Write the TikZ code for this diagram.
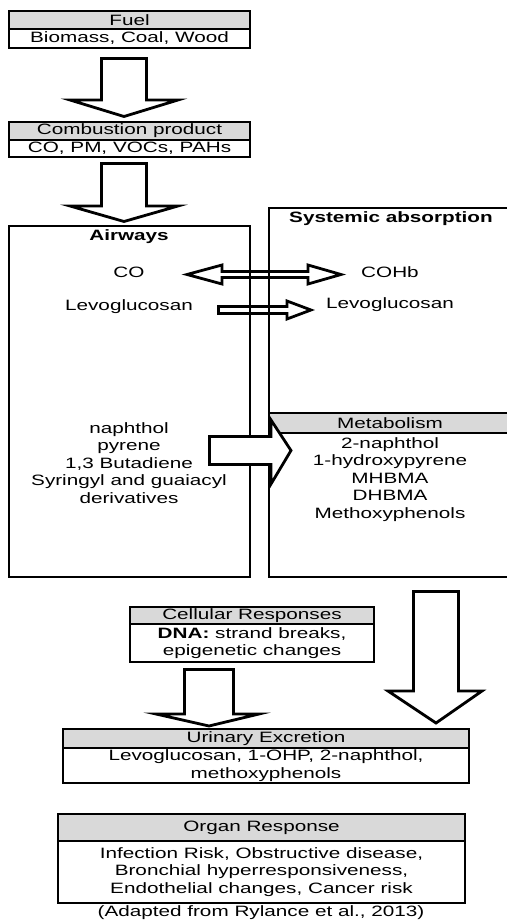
\documentclass[tikz,border=0pt]{standalone}
\usepackage{fontspec}
\setmainfont{Liberation Sans}[FakeStretch=1.38]
\newcommand\figfont{\fontsize{15}{17.5}\selectfont}

\begin{document}
\begin{tikzpicture}[x=1pt,y=-1pt,
    box/.style={draw,line width=1.5pt,inner sep=0pt,align=center,font=\figfont},
    head/.style={box,fill=gray!30},
    txt/.style={inner sep=0pt,align=center,font=\figfont},
    title/.style={inner sep=0pt,font=\figfont\bfseries},
    blk/.style={draw,line width=2.8pt,miter limit=20}]
    \useasboundingbox (0,0) rectangle (506,923);
    % side arrows first, the box lines run over them
    \draw[blk] (187,274.5) -- (222,265) -- (222,271.5) -- (308,271.5) -- (308,265) -- (341,274.5)
        -- (308,284) -- (308,277.5) -- (222,277.5) -- (222,284) -- cycle;
    \draw[blk] (218.5,306.5) -- (287,306.5) -- (287,301) -- (311,310) -- (287,319) -- (287,313.5) -- (218.5,313.5) -- cycle;
    % fuel and combustion
    \node[head,minimum width=241pt,minimum height=18pt] (fuelhd) at (129.5,20) {Fuel};
    \node[box,minimum width=241pt,minimum height=19pt] (fuel) at (129.5,38.5) {Biomass, Coal, Wood};
    \node[head,minimum width=241pt,minimum height=18pt] (combhd) at (129.5,131) {Combustion product};
    \node[box,minimum width=241pt,minimum height=17pt] (comb) at (129.5,148.5) {CO, PM, VOCs, PAHs};
    \draw[blk] (101.5,58.5) -- (146.5,58.5) -- (146.5,100) -- (178,100) -- (124,116.5) -- (70,100) -- (101.5,100) -- cycle;
    \draw[blk] (101.5,163.5) -- (146.5,163.5) -- (146.5,206) -- (178,206) -- (124,221.5) -- (70,206) -- (101.5,206) -- cycle;
    % airways and systemic absorption
    \node[box,minimum width=241pt,minimum height=351pt] (airways) at (129.5,401.5) {};
    \draw[line width=1.5pt] (515,208) -- (269,208) -- (269,577) -- (515,577);
    \node[title] (airt) at (129,237) {Airways};
    \node[title] (syst) at (391,219) {Systemic absorption};
    \node[txt] (co) at (129,272) {CO};
    \node[txt] (cohb) at (390,272) {COHb};
    \node[txt] (levo1) at (129,307) {Levoglucosan};
    \node[txt] (levo2) at (390,305) {Levoglucosan};
    \node[txt] (pah) at (129,463) {naphthol\\pyrene\\1,3 Butadiene\\Syringyl and guaiacyl\\derivatives};
    \draw[head] (269,413) rectangle (515,433);
    \node[txt] (metat) at (390,423) {Metabolism};
    \node[txt] (meta) at (390,479.5) {2-naphthol\\1-hydroxypyrene\\MHBMA\\DHBMA\\Methoxyphenols};
    \draw[blk,fill=white] (209.5,436.5) -- (271,436.5) -- (271,420) -- (291,450.5) -- (271,484) -- (271,464.5) -- (209.5,464.5) -- cycle;
    % responses and excretion
    \draw[blk] (413.5,591.5) -- (458.5,591.5) -- (458.5,691) -- (482,691) -- (436,723) -- (388,691) -- (413.5,691) -- cycle;
    \node[head,minimum width=244pt,minimum height=17pt] (cellhd) at (252,615.5) {Cellular Responses};
    \node[box,minimum width=244pt,minimum height=38pt] (cell) at (252,643) {\textbf{DNA:} strand breaks,\\epigenetic changes};
    \draw[blk] (184.5,669.5) -- (233.5,669.5) -- (233.5,714) -- (259,714) -- (209,726) -- (156,714) -- (184.5,714) -- cycle;
    \node[head,minimum width=406pt,minimum height=19pt] (urinehd) at (266,738.5) {Urinary Excretion};
    \node[box,minimum width=406pt,minimum height=35pt] (urine) at (266,765.5) {Levoglucosan, 1-OHP, 2-naphthol,\\methoxyphenols};
    \node[head,minimum width=407pt,minimum height=27pt] (organhd) at (261.5,827.5) {Organ Response};
    \node[box,minimum width=407pt,minimum height=62pt] (organ) at (261.5,872) {Infection Risk, Obstructive disease,\\Bronchial hyperresponsiveness,\\Endothelial changes, Cancer risk};
    \node[txt] (source) at (261,913) {(Adapted from Rylance et al., 2013)};
\end{tikzpicture}
\end{document}
